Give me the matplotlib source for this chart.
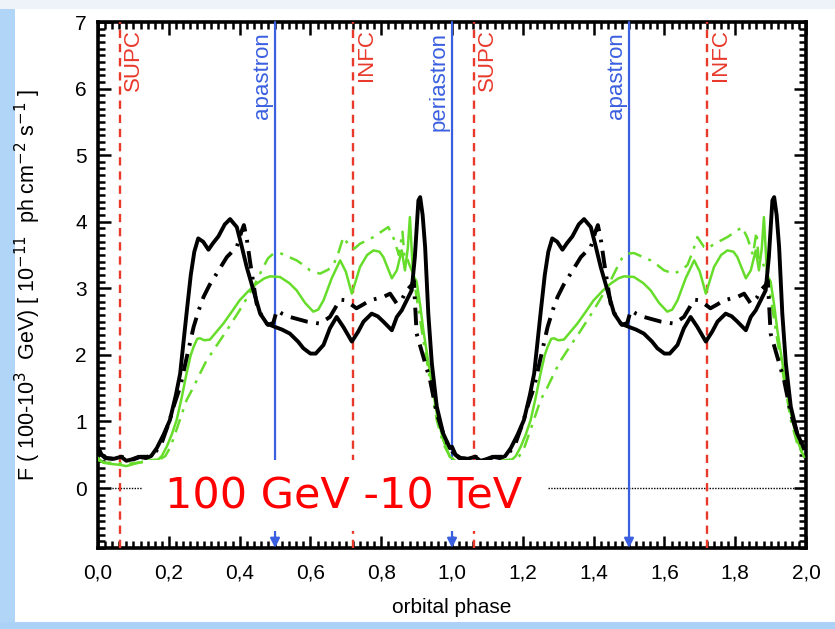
import matplotlib
matplotlib.use('Agg')
import matplotlib.pyplot as plt
from matplotlib.patches import Rectangle
from matplotlib.ticker import MultipleLocator, FuncFormatter
import numpy as np

plt.rcParams['font.family'] = ['Liberation Sans', 'DejaVu Sans']

# one orbital period (repeated for phase 1-2)
bs_phase = [0.000, 0.010, 0.025, 0.045, 0.065, 0.080, 0.095, 0.115, 0.135, 0.150,
            0.166, 0.185, 0.203, 0.220, 0.232, 0.250, 0.262, 0.272, 0.283, 0.297,
            0.312, 0.325, 0.340, 0.358, 0.373, 0.392, 0.405, 0.420, 0.439, 0.458,
            0.477, 0.500, 0.520, 0.542, 0.565, 0.580, 0.600, 0.615, 0.637, 0.655,
            0.674, 0.693, 0.717, 0.735, 0.750, 0.773, 0.790, 0.806, 0.830, 0.844,
            0.858, 0.872, 0.886, 0.895, 0.905, 0.910, 0.917, 0.924, 0.933, 0.943,
            0.957, 0.975, 0.994]
bs_flux = [0.62, 0.50, 0.45, 0.44, 0.47, 0.41, 0.43, 0.47, 0.45, 0.48,
           0.60, 0.80, 1.02, 1.40, 1.72, 2.62, 3.20, 3.55, 3.75, 3.70,
           3.58, 3.68, 3.78, 3.96, 4.04, 3.92, 3.65, 3.32, 2.97, 2.62,
           2.47, 2.42, 2.38, 2.32, 2.20, 2.10, 2.02, 2.02, 2.15, 2.40,
           2.57, 2.42, 2.20, 2.35, 2.50, 2.62, 2.58, 2.50, 2.37, 2.57,
           2.67, 2.82, 2.97, 3.47, 4.32, 4.37, 4.10, 3.62, 2.62, 1.87,
           1.22, 0.82, 0.60]

bd_phase = [0.000, 0.020, 0.040, 0.060, 0.080, 0.100, 0.120, 0.140, 0.160, 0.180,
            0.200, 0.215, 0.232, 0.250, 0.270, 0.285, 0.298, 0.315, 0.335, 0.364,
            0.392, 0.405, 0.412, 0.420, 0.430, 0.439, 0.448, 0.465, 0.480, 0.495,
            0.505, 0.520, 0.542, 0.590, 0.627, 0.655, 0.684, 0.700, 0.712, 0.730,
            0.750, 0.768, 0.806, 0.825, 0.844, 0.860, 0.872, 0.886, 0.892, 0.900,
            0.919, 0.938, 0.957, 0.975, 0.994]
bd_flux = [0.55, 0.45, 0.44, 0.48, 0.45, 0.43, 0.47, 0.47, 0.52, 0.68,
           0.98, 1.25, 1.52, 1.95, 2.42, 2.68, 2.87, 3.05, 3.22, 3.47,
           3.62, 3.85, 3.95, 3.75, 3.38, 3.07, 2.77, 2.55, 2.45, 2.48,
           2.67, 2.62, 2.57, 2.50, 2.47, 2.57, 2.83, 2.82, 2.77, 2.70,
           2.76, 2.82, 2.87, 2.92, 2.77, 2.85, 2.97, 3.05, 3.12, 2.32,
           1.97, 1.62, 1.12, 0.82, 0.58]

gs_phase = [0.000, 0.015, 0.040, 0.060, 0.080, 0.100, 0.130, 0.150, 0.170, 0.180,
            0.194, 0.208, 0.222, 0.236, 0.250, 0.262, 0.270, 0.280, 0.288, 0.300,
            0.316, 0.335, 0.354, 0.378, 0.400, 0.425, 0.448, 0.470, 0.486, 0.514,
            0.540, 0.561, 0.585, 0.608, 0.622, 0.637, 0.660, 0.684, 0.700, 0.717,
            0.740, 0.760, 0.778, 0.795, 0.806, 0.830, 0.844, 0.858, 0.867, 0.875,
            0.881, 0.890, 0.900, 0.910, 0.919, 0.938, 0.957, 0.975, 0.994]
gs_flux = [0.45, 0.38, 0.36, 0.35, 0.33, 0.36, 0.40, 0.42, 0.43, 0.48,
           0.62, 0.80, 1.02, 1.35, 1.72, 2.00, 2.12, 2.24, 2.25, 2.22,
           2.23, 2.35, 2.47, 2.65, 2.82, 2.96, 3.07, 3.15, 3.18, 3.17,
           3.08, 2.97, 2.78, 2.65, 2.68, 2.82, 3.15, 3.42, 3.25, 2.92,
           3.32, 3.50, 3.57, 3.55, 3.47, 3.15, 3.27, 3.57, 3.27, 3.60,
           4.07, 3.20, 3.10, 2.75, 2.37, 1.72, 1.12, 0.72, 0.47]

gd_phase = [0.000, 0.020, 0.050, 0.080, 0.110, 0.140, 0.170, 0.190, 0.205, 0.222,
            0.236, 0.250, 0.270, 0.288, 0.305, 0.326, 0.345, 0.364, 0.382, 0.400,
            0.420, 0.439, 0.453, 0.467, 0.480, 0.495, 0.514, 0.535, 0.561, 0.580,
            0.599, 0.627, 0.650, 0.665, 0.680, 0.693, 0.712, 0.725, 0.740, 0.760,
            0.778, 0.800, 0.820, 0.835, 0.850, 0.860, 0.866, 0.872, 0.880, 0.890,
            0.900, 0.919, 0.938, 0.957, 0.975, 0.994]
gd_flux = [0.42, 0.38, 0.38, 0.36, 0.38, 0.40, 0.42, 0.48, 0.62, 0.88,
           1.10, 1.32, 1.52, 1.72, 1.90, 2.07, 2.22, 2.37, 2.52, 2.67,
           2.85, 3.02, 3.17, 3.32, 3.45, 3.52, 3.53, 3.48, 3.42, 3.35,
           3.27, 3.22, 3.28, 3.35, 3.55, 3.77, 3.62, 3.60, 3.67, 3.72,
           3.77, 3.85, 3.92, 3.75, 3.50, 3.85, 3.45, 3.47, 3.35, 3.22,
           2.87, 2.22, 1.62, 1.02, 0.67, 0.47]

# orbital markers
conj_pos = [0.062, 0.72, 1.062, 1.72]
conj_lab = ['SUPC', 'INFC', 'SUPC', 'INFC']
apsis_pos = [0.5, 1.0, 1.5]
apsis_lab = ['apastron', 'periastron', 'apastron']

BLUE = '#3a5fe0'
RED = '#e8392b'
GREEN = '#66dd2a'

fig = plt.figure(figsize=(8.35, 6.29), dpi=100)
fig.patch.set_facecolor('white')
# slide background strips
fig.patches.append(Rectangle((0, 0), 0.018, 1, transform=fig.transFigure,
                             facecolor='#b0d5f7', edgecolor='none', zorder=-10))
fig.patches.append(Rectangle((0, 0.986), 1, 0.014, transform=fig.transFigure,
                             facecolor='#eef3fa', edgecolor='none', zorder=-10))
fig.patches.append(Rectangle((0, 0), 1, 0.011, transform=fig.transFigure,
                             facecolor='#acd2f8', edgecolor='none', zorder=-10))

ax = fig.add_axes([0.1174, 0.1288, 0.8479, 0.8362])
ymin, ymax = -0.9, 7.0
ax.set_xlim(0, 2)
ax.set_ylim(ymin, ymax)


def two_periods(ph, fl):
    ph = np.asarray(ph)
    return np.concatenate([ph, ph + 1]), np.concatenate([fl, fl])


x, y = two_periods(bs_phase, bs_flux)
ax.plot(x, y, color='black', lw=2.8, solid_joinstyle='round', zorder=5)
x, y = two_periods(bd_phase, bd_flux)
ax.plot(x, y, color='black', lw=2.8, dashes=[4.5, 2.2, 0.7, 2.2], zorder=5)
x, y = two_periods(gs_phase, gs_flux)
ax.plot(x, y, color=GREEN, lw=1.8, zorder=4)
x, y = two_periods(gd_phase, gd_flux)
ax.plot(x, y, color=GREEN, lw=1.8, dashes=[5.5, 3, 1.2, 3], zorder=4)

# zero level
ax.axhline(0, color='black', lw=1.0, ls=(0, (1, 1)), zorder=3)

for p, lab in zip(conj_pos, conj_lab):
    ax.axvline(p, color=RED, lw=1.7, ls=(0, (3.5, 2.5)), zorder=3)
    ax.text(p + 0.009, 6.9, lab, color=RED, rotation=90, ha='left', va='top',
            fontsize=16, zorder=6)

for p, lab in zip(apsis_pos, apsis_lab):
    ax.annotate('', xy=(p, ymin), xytext=(p, ymax),
                arrowprops=dict(arrowstyle='-|>', color=BLUE, lw=1.6,
                                mutation_scale=14, shrinkA=0, shrinkB=0),
                zorder=3)
    ax.text(p - 0.007, 6.85, lab, color=BLUE, rotation=90, ha='right', va='top',
            fontsize=16, zorder=6)

# energy band label box
ax.add_patch(Rectangle((0.127, -0.65), 1.144, 1.07, facecolor='white',
                       edgecolor='none', zorder=8))
ax.text(0.695, -0.13, '100 GeV -10 TeV', color='red', fontsize=31,
        family='DejaVu Sans', ha='center', va='center', zorder=9)

ax.xaxis.set_major_locator(MultipleLocator(0.2))
ax.xaxis.set_minor_locator(MultipleLocator(0.02))
ax.yaxis.set_major_locator(MultipleLocator(1))
ax.yaxis.set_minor_locator(MultipleLocator(0.1))
ax.xaxis.set_major_formatter(FuncFormatter(lambda v, _: f'{v:.1f}'.replace('.', ',')))
ax.yaxis.set_major_formatter(FuncFormatter(lambda v, _: f'{v:.0f}' if v >= 0 else ''))
ax.tick_params(which='both', direction='in', top=True, right=True, width=1.8,
               labelsize=15)
ax.tick_params(axis='x', which='both', pad=11)
ax.tick_params(axis='y', which='both', pad=8)
ax.tick_params(which='major', length=9)
ax.tick_params(which='minor', length=5)
for s in ax.spines.values():
    s.set_linewidth(2.6)

ax.set_xlabel('orbital phase', fontsize=15)
ax.xaxis.set_label_coords(0.5, -0.095)
ax.set_ylabel(r'F ( 100-10$^{3}$  GeV) [ 10$^{-11}$  ph cm$^{-2}$ s$^{-1}$ ]',
              fontsize=15.5)
ax.yaxis.set_label_coords(-0.078, 0.5)

fig.savefig('out.png', dpi=100)
